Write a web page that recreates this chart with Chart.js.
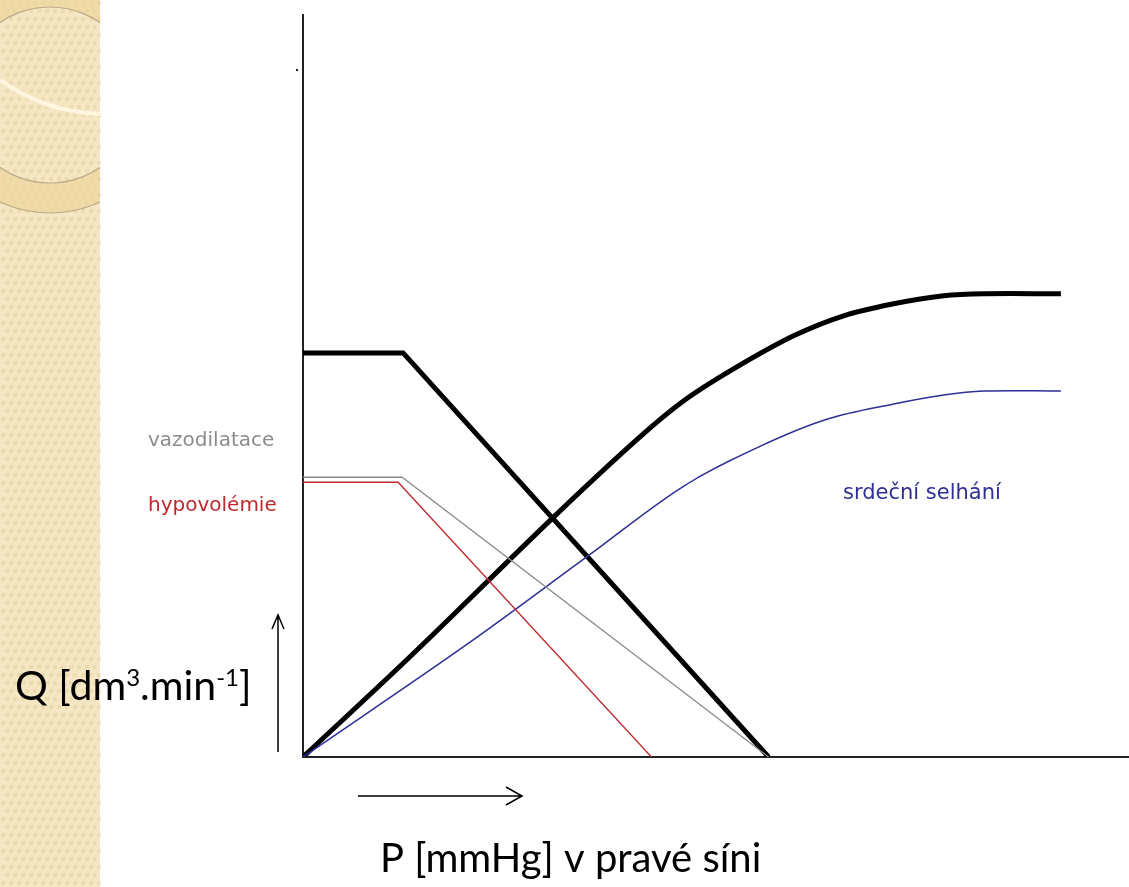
<!DOCTYPE html>
<html>
<head>
<meta charset="utf-8">
<script src="https://cdn.jsdelivr.net/npm/chart.js@4.4.1/dist/chart.umd.min.js"></script>
<style>
  html, body { margin: 0; padding: 0; background: #fff; }
  #wrap { position: relative; width: 1129px; height: 887px; }
</style>
</head>
<body>
<div id="wrap"><canvas id="guyton" width="1129" height="887"></canvas></div>
<script>
// right atrial pressure (x) and flow Q (y), arbitrary units
const venousNormalX = [0, 2.0, 9.3];
const venousNormalY = [8.06, 8.06, 0];
const vasodilX = [0, 1.98, 9.3];
const vasodilY = [5.58, 5.58, 0];
const hypovolX = [0, 1.9, 6.96];
const hypovolY = [5.48, 5.48, 0];
const cardiacNormalX = [0, 2.2, 5.0, 6.68, 7.6, 8.6, 9.8, 10.8, 11.8, 12.8, 13.6, 15.14];
const cardiacNormalY = [0, 2.06, 4.78, 6.34, 7.1, 7.74, 8.4, 8.8, 9.04, 9.2, 9.24, 9.24];
const heartFailureX = [0, 3.28, 5.68, 7.6, 9.14, 10.48, 11.8, 12.8, 13.6, 15.14];
const heartFailureY = [0, 2.25, 4.0, 5.4, 6.2, 6.74, 7.04, 7.22, 7.3, 7.3];

const labels = ['vazodilatace', 'hypovolémie', 'srdeční selhání'];

const pts = (xs, ys) => xs.map((x, i) => ({x: x, y: ys[i]}));

// slide background strip on the left + hand drawn labels / arrows
const decor = {
    id: 'decor',
    beforeDraw(chart) {
        const ctx = chart.ctx;
        ctx.save();
        ctx.fillStyle = '#f5e6c4';
        ctx.fillRect(0, 0, 100, 887);
        ctx.fillStyle = 'rgba(225,200,140,0.35)';
        for (let y = 0; y < 887; y += 8) {
            for (let x = (y / 8) % 2 ? 4 : 0; x < 100; x += 8) {
                ctx.fillRect(x + 1, y + 1, 4, 4);
            }
        }
        ctx.beginPath();
        ctx.rect(0, 0, 100, 887);
        ctx.clip();
        // ring band
        ctx.beginPath();
        ctx.arc(50, 95, 118, 0, Math.PI * 2);
        ctx.arc(50, 95, 88, 0, Math.PI * 2, true);
        ctx.fillStyle = 'rgba(236,212,150,0.6)';
        ctx.fill();
        ctx.strokeStyle = '#bba98a';
        ctx.lineWidth = 1.2;
        ctx.beginPath();
        ctx.arc(50, 95, 88, 0, Math.PI * 2);
        ctx.stroke();
        ctx.beginPath();
        ctx.arc(50, 95, 118, 0, Math.PI * 2);
        ctx.stroke();
        // light swoosh
        ctx.strokeStyle = '#fff6e0';
        ctx.lineWidth = 4;
        ctx.beginPath();
        ctx.moveTo(0, 80);
        ctx.quadraticCurveTo(45, 112, 100, 114);
        ctx.stroke();
        ctx.restore();
    },
    afterDraw(chart) {
        const ctx = chart.ctx;
        ctx.save();
        ctx.textBaseline = 'middle';
        ctx.font = '20px "DejaVu Sans"';
        ctx.fillStyle = '#8c8c8c';
        ctx.fillText(labels[0], 148, 441);
        ctx.fillStyle = '#c0282d';
        ctx.fillText(labels[1], 148, 506);
        ctx.fillStyle = '#2e2e96';
        ctx.font = '21px "DejaVu Sans"';
        ctx.fillText(labels[2], 843, 494);

        // axis titles
        ctx.fillStyle = '#000';
        ctx.textBaseline = 'alphabetic';
        let x = 15;
        const base = 700;
        const seg = (t, size, dy) => {
            ctx.font = size + 'px Lato';
            ctx.fillText(t, x, base + dy);
            x += ctx.measureText(t).width;
        };
        seg('Q [dm', 41, 0);
        seg('3', 24, -14);
        seg('.min', 41, 0);
        seg('-1', 24, -14);
        seg(']', 41, 0);

        ctx.font = '40px Lato';
        ctx.fillText('P [mmHg] v pravé síni', 380, 872);

        // arrows
        ctx.strokeStyle = '#000';
        ctx.lineWidth = 1.5;
        ctx.beginPath();
        ctx.moveTo(278, 752);
        ctx.lineTo(278, 615);
        ctx.moveTo(272, 629);
        ctx.lineTo(278, 615);
        ctx.lineTo(284, 629);
        ctx.moveTo(358, 796);
        ctx.lineTo(522, 796);
        ctx.moveTo(506, 787);
        ctx.lineTo(522, 796);
        ctx.lineTo(506, 805);
        ctx.stroke();

        ctx.fillStyle = '#222';
        ctx.fillRect(296, 69, 2, 2);
        ctx.restore();
    }
};

new Chart(document.getElementById('guyton'), {
    type: 'scatter',
    data: {
        datasets: [
            { data: pts(hypovolX, hypovolY), borderColor: '#c0282d', borderWidth: 1.3, tension: 0 },
            { data: pts(vasodilX, vasodilY), borderColor: '#8c8c8c', borderWidth: 1.3, tension: 0 },
            { data: pts(heartFailureX, heartFailureY), borderColor: '#2e2e96', borderWidth: 1.5, tension: 0.35 },
            { data: pts(venousNormalX, venousNormalY), borderColor: '#000', borderWidth: 5, tension: 0 },
            { data: pts(cardiacNormalX, cardiacNormalY), borderColor: '#000', borderWidth: 5, tension: 0.35 }
        ]
    },
    options: {
        responsive: false,
        animation: false,
        showLine: true,
        elements: { point: { radius: 0, hoverRadius: 0 } },
        layout: { padding: { left: 303, top: 15, right: 0, bottom: 130 } },
        plugins: { legend: { display: false }, tooltip: { enabled: false } },
        scales: {
            x: {
                type: 'linear', min: 0, max: 16.5,
                grid: { display: false, drawTicks: false },
                border: { display: true, color: '#222', width: 2 },
                ticks: { display: false }
            },
            y: {
                type: 'linear', min: 0, max: 14.8,
                grid: { display: false, drawTicks: false },
                border: { display: true, color: '#222', width: 2 },
                ticks: { display: false }
            }
        }
    },
    plugins: [decor]
});
</script>
</body>
</html>
